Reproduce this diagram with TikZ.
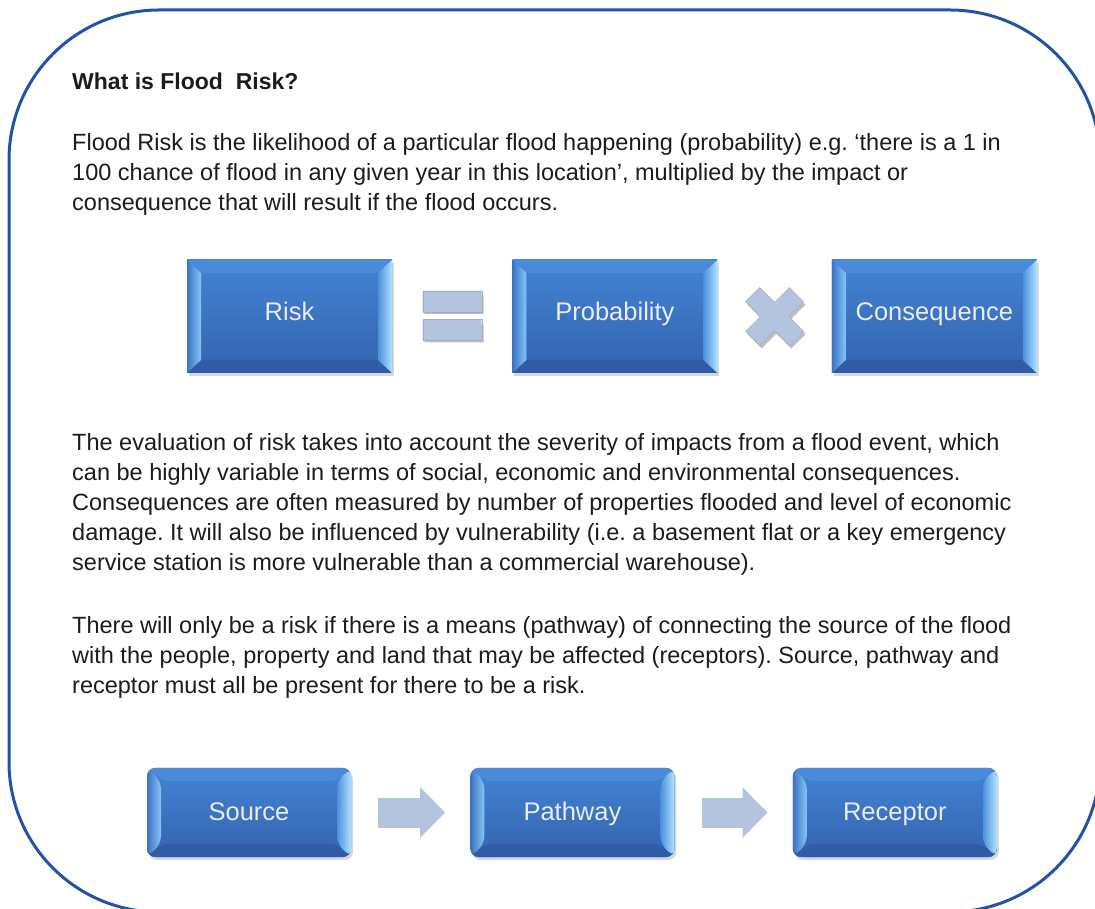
\documentclass[tikz,border=0pt]{standalone}
\usepackage{fontspec}
\setmainfont{Liberation Sans}
\frenchspacing
\usetikzlibrary{arrows.meta, calc, positioning, shadows}
\definecolor{frameblue}{HTML}{2353A5}
\definecolor{facetop}{HTML}{4384D4}
\definecolor{facebot}{HTML}{3463AF}
\definecolor{bevtop}{HTML}{4A8BD9}
\definecolor{bevbot}{HTML}{2F5CA5}
\definecolor{bevdark}{HTML}{3A72C2}
\definecolor{bevlight}{HTML}{86C6F6}
\definecolor{bevmid}{HTML}{4D90DC}
\definecolor{bevbright}{HTML}{AEE2FF}
\definecolor{symfill}{HTML}{B4C4DF}
\definecolor{symedge}{HTML}{9DAECB}
\definecolor{labelwhite}{HTML}{E9EEF6}
\definecolor{bodytext}{HTML}{1C1C1C}
\tikzset{
  outerframe/.style={frameblue, line width=3pt, rounded corners=150pt},
  % multi-line text: base anchor sits on the last line
  body/.style={anchor=base west, inner sep=0pt, align=left, text=bodytext, font=\fontsize{23.5}{30}\selectfont},
  % bevelled button, bevel is drawn inside the node path
  bevelbox/.style={minimum width=205pt, minimum height=113pt, inner sep=0pt,
    text height=17pt, text depth=8pt,
    top color=facetop, bottom color=facebot, draw=none,
    text=labelwhite, font=\fontsize{25.5}{30}\selectfont,
    drop shadow={shadow xshift=2pt, shadow yshift=-3pt, opacity=.3},
    path picture={
      \fill[bevtop] (path picture bounding box.north west) -- (path picture bounding box.north east)
        -- ([shift={(-14,-13)}]path picture bounding box.north east) -- ([shift={(14,-13)}]path picture bounding box.north west) -- cycle;
      \fill[bevbot] (path picture bounding box.south west) -- (path picture bounding box.south east)
        -- ([shift={(-14,13)}]path picture bounding box.south east) -- ([shift={(14,13)}]path picture bounding box.south west) -- cycle;
      \shade[left color=bevdark, right color=bevlight] (path picture bounding box.north west)
        -- ([shift={(14,-13)}]path picture bounding box.north west) -- ([shift={(14,13)}]path picture bounding box.south west)
        -- (path picture bounding box.south west) -- cycle;
      \shade[left color=bevmid, right color=bevbright] (path picture bounding box.north east)
        -- ([shift={(-14,-13)}]path picture bounding box.north east) -- ([shift={(-14,13)}]path picture bounding box.south east)
        -- (path picture bounding box.south east) -- cycle;
    }},
  roundbox/.style={rounded corners=8pt, minimum width=204pt, minimum height=89pt, text height=20pt, text depth=5pt},
  blockarrow/.style={symfill, line width=30pt, -{Triangle[length=25pt, width=49pt]}, shorten <=27pt, shorten >=25pt},
  % operator signs, sizes in pt
  equalssign/.pic={
    \fill[black, opacity=.25] (-27.5,2.5) rectangle (31.5,20.5) (-27.5,-26) rectangle (31.5,-8);
    \filldraw[fill=symfill, draw=symedge, thin] (-29.5,4.5) rectangle (29.5,25.5) (-29.5,-24) rectangle (29.5,-3);
  },
  timessign/.pic={
    \fill[black, opacity=.25, shift={(2,-3)}, rotate=45] (-10,31) -- (10,31) -- (10,10) -- (31,10) -- (31,-10) -- (10,-10)
      -- (10,-31) -- (-10,-31) -- (-10,-10) -- (-31,-10) -- (-31,10) -- (-10,10) -- cycle;
    \filldraw[fill=symfill, draw=symedge, thin, rotate=45] (-10,31) -- (10,31) -- (10,10) -- (31,10) -- (31,-10) -- (10,-10)
      -- (10,-31) -- (-10,-31) -- (-10,-10) -- (-31,-10) -- (-31,10) -- (-10,10) -- cycle;
  },
}

\begin{document}
\begin{tikzpicture}[x=1pt, y=1pt]
  \useasboundingbox (0,0) rectangle (1095,908);
  \fill[white] (0,0) rectangle (1095,908);
  % ---- outer frame, runs off the right and bottom edge
  \draw[outerframe] (9,-4) rectangle (1100,898);

  % ---- text
  \node[body, font=\fontsize{23}{30}\selectfont\bfseries] (title) at (72,818) {What is Flood\ \ Risk?};
  \node[body] (intro) at (72,697) {Flood Risk is the likelihood of a particular flood happening (probability) e.g. ‘there is a 1 in\\
    100 chance of flood in any given year in this location’, multiplied by the impact or\\
    consequence that will result if the flood occurs.};
  \node[body] (evaluation) at (72,337) {The evaluation of risk takes into account the severity of impacts from a flood event, which\\
    can be highly variable in terms of social, economic and environmental consequences.\\
    Consequences are often measured by number of properties flooded and level of economic\\
    damage. It will also be influenced by vulnerability (i.e. a basement flat or a key emergency\\
    service station is more vulnerable than a commercial warehouse).};
  \node[body] (pathways) at (72,214) {There will only be a risk if there is a means (pathway) of connecting the source of the flood\\
    with the people, property and land that may be affected (receptors). Source, pathway and\\
    receptor must all be present for there to be a risk.};

  % ---- risk = probability x consequence
  \node[bevelbox] (risk) at (289.5,591.5) {Risk};
  \node[bevelbox, right=120pt of risk] (prob) {Probability};
  \node[bevelbox, right=114pt of prob] (cons) {Consequence};
  \pic at ($(risk.east)!0.5!(prob.west)$) {equalssign};
  \pic at ($(prob.east)!0.5!(cons.west)$) {timessign};

  % ---- source -> pathway -> receptor
  \node[bevelbox, roundbox] (source) at (249,95.5) {Source};
  \node[bevelbox, roundbox, right=119pt of source] (pathway) {Pathway};
  \node[bevelbox, roundbox, right=118pt of pathway] (receptor) {Receptor};
  \draw[blockarrow] (source) -- (pathway);
  \draw[blockarrow] (pathway) -- (receptor);
\end{tikzpicture}
\end{document}
